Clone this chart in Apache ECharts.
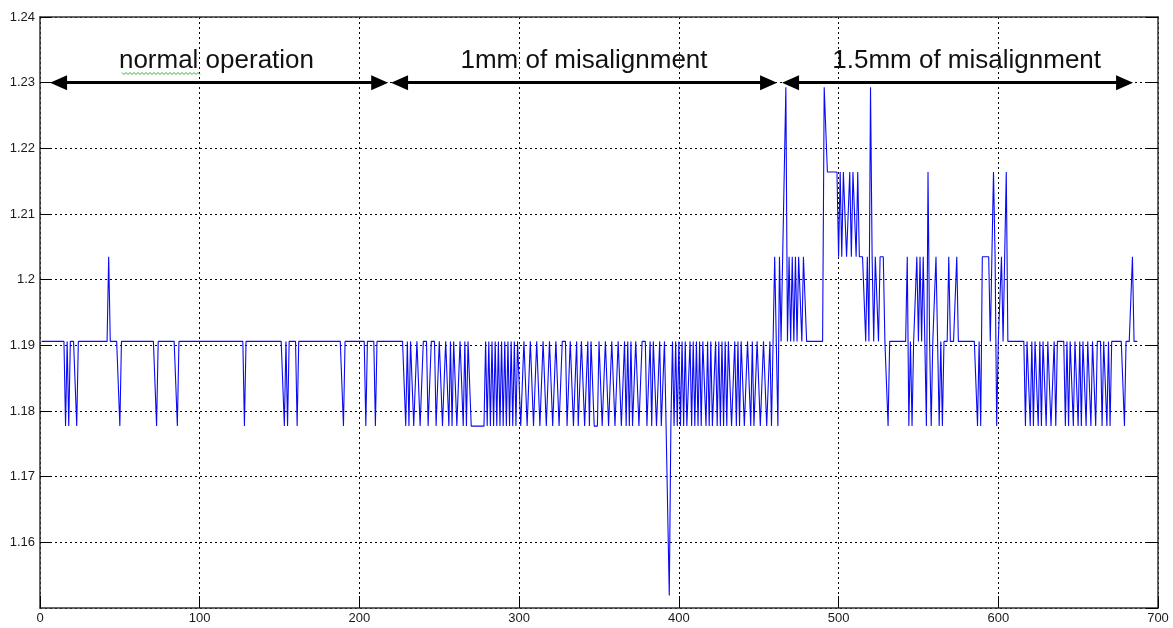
<!DOCTYPE html>
<html>
<head>
<meta charset="utf-8">
<script src="https://cdn.jsdelivr.net/npm/echarts@6/dist/echarts.min.js"></script>
<style>
  html, body { margin: 0; background: #fff; }
  #chart { width: 1173px; height: 628px; }
</style>
</head>
<body>
<div id="chart"></div>
<script>
// quantised output levels of the signal
var levels = [1.1519, 1.1648, 1.1777, 1.1906, 1.2035, 1.2164, 1.2293];

// one digit per sample = index into levels, samples at x = 1, 2, 3 ...
var normalOp =
  '3333333333' + '3333323233' + '3323333333' + '3333333333' + '3343333332' +
  '3333333333' + '3333333333' + '3323333333' + '3333323333' + '3333333333' +
  '3333333333' + '3333333333' + '3333333233' + '3333333333' + '3333333333' +
  '3323233333' + '2333333333' + '3333333333' + '3333333332' + '3333333333' +
  '3332333332' + '3333333333' + '3333333';
var misalign1mm =
  '3232332233' + '2233322333' + '2233223323' + '2332233232' + '3322222222' +
  '2323232323' + '2323232323' + '2332233223' + '3223322332' + '2332233223' +
  '3322332232' + '2332232332' + '2233223322' + '3322332232' + '3232233223' +
  '3322323322' + '3223210232' + '3232323223' + '2323232332' + '3232232323' +
  '2323322323' + '2332233232' + '2332233223' + '23';
var misalign15mm =
  '4424344634' + '3434344344' + '3333333333' + '3665555555' + '4545544545' +
  '5454444343' + '6434434443' + '3233333333' + '3334232334' + '3434325323' +
  '3432323334' + '3333433333' + '3333333232' + '4444434542' + '3343453333' +
  '3333333233' + '2323323233' + '2332232333' + '3323233233' + '2323323323' +
  '3233323323' + '2333333332' + '33334333';

// annotation arrows (x of the two tips) and their captions
var sections = ['normal operation', '1mm of misalignment', '1.5mm of misalignment'];
var arrowFrom = [6.3, 219.8, 464.6];
var arrowTo = [218, 461.5, 684.4];
var captionX = [110.5, 340.6, 580.2];
var arrowY = 1.23;
var captionY = 1.2334;

var xMin = 0, xMax = 700, xStep = 100;
var yMin = 1.15, yMax = 1.24, yStep = 0.01;

var samples = (normalOp + misalign1mm + misalign15mm).split('');
var lineData = samples.map(function (d, i) { return [i + 1, levels[+d]]; });

var gridBox = { left: 40, right: 15, top: 17, bottom: 20 };
var headW = 15, headL = 17;
// arrow heads are centred on the line ends, so pull the ends in by half a head
var pullIn = (headL / 2) * (xMax - xMin) / (1173 - gridBox.left - gridBox.right);

var font = 'Liberation Sans, Arial, sans-serif';
var frame = { show: true, onZero: false, lineStyle: { color: '#333', width: 1.5 } };
var grid = { show: true, lineStyle: { color: '#000', type: [2, 3], width: 1 } };
var head = 'path://M5,0L10,10L0,10Z';

var chart = echarts.init(document.getElementById('chart'));
chart.setOption({
  animation: false,
  backgroundColor: '#fff',
  grid: gridBox,
  xAxis: [{
    type: 'value', min: xMin, max: xMax, interval: xStep, position: 'bottom',
    axisLine: frame,
    axisTick: { inside: true, length: 12, lineStyle: { color: '#000' } },
    axisLabel: { color: '#1a1a1a', fontSize: 13, fontFamily: font, margin: 4 },
    splitLine: grid
  }, {
    type: 'value', min: xMin, max: xMax, interval: xStep, position: 'top',
    axisLine: frame, axisTick: { show: false }, axisLabel: { show: false }, splitLine: { show: false }
  }],
  yAxis: [{
    type: 'value', min: yMin, max: yMax, interval: yStep, position: 'left',
    axisLine: frame,
    axisTick: { inside: true, length: 12, lineStyle: { color: '#000' } },
    axisLabel: {
      color: '#1a1a1a', fontSize: 13, fontFamily: font, margin: 5, showMinLabel: false,
      formatter: function (v) { return String(+v.toFixed(2)); }
    },
    splitLine: grid
  }, {
    type: 'value', min: yMin, max: yMax, interval: yStep, position: 'right',
    axisLine: frame,
    axisTick: { inside: true, length: 12, lineStyle: { color: '#000' } },
    axisLabel: { show: false }, splitLine: { show: false }
  }],
  series: [{
    type: 'line',
    data: lineData,
    showSymbol: false,
    lineStyle: { color: '#0a0af5', width: 1.1 },
    markLine: {
      silent: true,
      symbol: [head, head],
      symbolSize: [headW, headL],
      lineStyle: { color: '#000', width: 3, type: 'solid' },
      itemStyle: { color: '#000' },
      label: { show: false },
      data: sections.map(function (s, i) {
        return [{ coord: [arrowFrom[i] + pullIn, arrowY] }, { coord: [arrowTo[i] - pullIn, arrowY] }];
      })
    },
    markPoint: {
      silent: true,
      symbol: 'rect',
      symbolSize: 1,
      itemStyle: { color: 'rgba(0,0,0,0)' },
      label: {
        show: true, position: 'inside', formatter: '{b}',
        color: '#111', fontSize: 26, fontFamily: font
      },
      data: sections.map(function (s, i) {
        return { name: s, coord: [captionX[i], captionY] };
      })
    }
  }]
});

// green spell-check squiggle under "normal"
var pts = [];
for (var px = 122; px <= 200; px += 2) pts.push([px, (px / 2) % 2 ? 72.5 : 74.5]);
chart.setOption({
  graphic: [{ type: 'polyline', shape: { points: pts }, style: { stroke: '#3aa83a', lineWidth: 1, fill: null }, z: 100 }]
});
</script>
</body>
</html>
